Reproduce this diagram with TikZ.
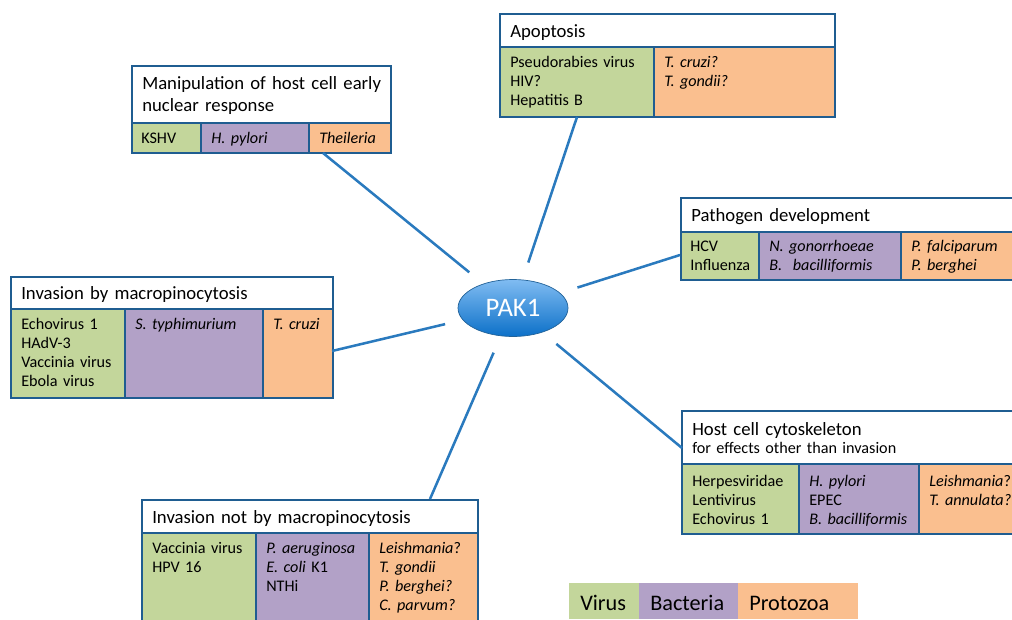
\documentclass[tikz,border=0pt]{standalone}
\usepackage{fontspec}
\setmainfont{Carlito}
\usetikzlibrary{shapes.geometric}

\definecolor{virusgreen}{RGB}{195,214,155}
\definecolor{bactpurple}{RGB}{178,161,199}
\definecolor{protoorange}{RGB}{250,191,143}
\definecolor{boxblue}{RGB}{31,93,145}
\definecolor{linkblue}{RGB}{42,122,190}

\newdimen\px \px=0.025cm

\begin{document}
\begin{tikzpicture}[
      x=0.025cm, y=-0.025cm, % one unit is one pixel of the layout
      title box/.style 2 args={draw=boxblue, line width=1.4pt, fill=white, anchor=north west,
        inner sep=0pt, minimum width=#1\px, minimum height=#2\px},
      cell/.style 2 args={draw=boxblue, line width=1.4pt, anchor=north west,
        inner sep=0pt, minimum width=#1\px, minimum height=#2\px},
      key/.style 2 args={anchor=north west, inner sep=0pt, minimum width=#1\px, minimum height=#2\px},
      title text/.style={anchor=base west, inner sep=0pt, text width=7cm, align=left,
        font=\fontsize{13.3}{16}\selectfont},
      item text/.style={anchor=base west, inner sep=0pt, text width=4cm, align=left,
        font=\fontsize{11.5}{13.6}\selectfont},
      key text/.style={anchor=base west, inner sep=0pt, font=\fontsize{15.8}{18}\selectfont},
      link/.style={draw=linkblue, line width=1.8pt, shorten <=0.45cm}
    ]

    \clip (0,0) rectangle (1012,619);

    % Central node
    \node[ellipse, draw=linkblue!80!black, line width=0.5pt,
          top color={rgb,255:red,128;green,188;blue,242}, bottom color={rgb,255:red,12;green,112;blue,200},
          minimum width=110\px, minimum height=57\px, text=white,
          font=\fontsize{19}{22}\selectfont] (pak) at (513,308) {PAK1};

    % Manipulation of host cell early nuclear response
    \node[title box={259}{57}] (mani) at (131,65) {};
    \node[cell={69}{30}, fill=virusgreen] (mani-v) at (131,122) {};
    \node[cell={108}{30}, fill=bactpurple] (mani-b) at (200,122) {};
    \node[cell={82}{30}, fill=protoorange] (mani-p) at (308,122) {};
    \node[title text] at ([shift={(11,24)}]mani.north west) {Manipulation of host cell early\\nuclear response};
    \node[item text] at ([shift={(10,21)}]mani-v.north west) {KSHV};
    \node[item text] at ([shift={(11,21)}]mani-b.north west) {\itshape H. pylori};
    \node[item text] at ([shift={(11,21)}]mani-p.north west) {\itshape Theileria};

    % Apoptosis
    \node[title box={335}{33}] (apo) at (499,13) {};
    \node[cell={154}{70}, fill=virusgreen] (apo-v) at (499,46) {};
    \node[cell={181}{70}, fill=protoorange] (apo-p) at (653,46) {};
    \node[title text] at ([shift={(11,24)}]apo.north west) {Apoptosis};
    \node[item text] at ([shift={(11,21)}]apo-v.north west) {Pseudorabies virus\\HIV?\\Hepatitis B};
    \node[item text] at ([shift={(11,21)}]apo-p.north west) {\itshape T. cruzi?\\T. gondii?};

    % Invasion by macropinocytosis
    \node[title box={322}{32}] (macro) at (10,276) {};
    \node[cell={114}{89}, fill=virusgreen] (macro-v) at (10,308) {};
    \node[cell={138}{89}, fill=bactpurple] (macro-b) at (124,308) {};
    \node[cell={70}{89}, fill=protoorange] (macro-p) at (262,308) {};
    \node[title text] at ([shift={(11,23)}]macro.north west) {Invasion by macropinocytosis};
    \node[item text] at ([shift={(11,21)}]macro-v.north west) {Echovirus 1\\HAdV-3\\Vaccinia virus\\Ebola virus};
    \node[item text] at ([shift={(11,21)}]macro-b.north west) {\itshape S. typhimurium};
    \node[item text] at ([shift={(11,21)}]macro-p.north west) {\itshape T. cruzi};

    % Pathogen development
    \node[title box={345}{34}] (patho) at (680,197) {};
    \node[cell={78}{48}, fill=virusgreen] (patho-v) at (680,231) {};
    \node[cell={142}{48}, fill=bactpurple] (patho-b) at (758,231) {};
    \node[cell={125}{48}, fill=protoorange] (patho-p) at (900,231) {};
    \node[title text] at ([shift={(11,24)}]patho.north west) {Pathogen development};
    \node[item text] at ([shift={(10,20)}]patho-v.north west) {HCV\\Influenza};
    \node[item text] at ([shift={(11,20)}]patho-b.north west) {\itshape N. gonorrhoeae\\B.\ \ bacilliformis};
    \node[item text] at ([shift={(11,20)}]patho-p.north west) {\itshape P. falciparum\\P. berghei};

    % Host cell cytoskeleton
    \node[title box={345}{53}] (host) at (681,410) {};
    \node[cell={117}{70}, fill=virusgreen] (host-v) at (681,463) {};
    \node[cell={120}{70}, fill=bactpurple] (host-b) at (798,463) {};
    \node[cell={107}{70}, fill=protoorange] (host-p) at (918,463) {};
    \node[title text] at ([shift={(11,25)}]host.north west) {Host cell cytoskeleton};
    \node[item text, text width=7cm] at ([shift={(11,43)}]host.north west) {for effects other than invasion};
    \node[item text] at ([shift={(11,23)}]host-v.north west) {Herpesviridae\\Lentivirus\\Echovirus 1};
    \node[item text] at ([shift={(11,23)}]host-b.north west) {\itshape H. pylori\\\upshape EPEC\\\itshape B. bacilliformis};
    \node[item text] at ([shift={(11,23)}]host-p.north west) {\itshape Leishmania\upshape ?\\\itshape T. annulata?};

    % Invasion not by macropinocytosis
    \node[title box={336}{33}] (notmacro) at (141,499) {};
    \node[cell={114}{95}, fill=virusgreen] (notmacro-v) at (141,532) {};
    \node[cell={113}{95}, fill=bactpurple] (notmacro-b) at (255,532) {};
    \node[cell={109}{95}, fill=protoorange] (notmacro-p) at (368,532) {};
    \node[title text] at ([shift={(11,24)}]notmacro.north west) {Invasion not by macropinocytosis};
    \node[item text] at ([shift={(11,21)}]notmacro-v.north west) {Vaccinia virus\\HPV 16};
    \node[item text] at ([shift={(11,21)}]notmacro-b.north west) {\itshape P. aeruginosa\\E. coli \upshape K1\\NTHi};
    \node[item text] at ([shift={(11,21)}]notmacro-p.north west) {\itshape Leishmania\upshape ?\\\itshape T. gondii\\P. berghei?\\C. parvum?};

    % Key
    \node[key={70}{36}, fill=virusgreen] (key-v) at (569,583) {};
    \node[key={99}{36}, fill=bactpurple] (key-b) at (639,583) {};
    \node[key={120}{36}, fill=protoorange] (key-p) at (738,583) {};
    \node[key text] at ([shift={(11,27)}]key-v.north west) {Virus};
    \node[key text] at ([shift={(11,27)}]key-b.north west) {Bacteria};
    \node[key text] at ([shift={(11,27)}]key-p.north west) {Protozoa};

    % Connectors from PAK1 to each box
    \coordinate (mani-in) at (323,153);
    \coordinate (apo-in) at (577,117);
    \coordinate (patho-in) at (680,255);
    \coordinate (macro-in) at (332,351);
    \coordinate (host-in) at (682,448);
    \coordinate (notmacro-in) at (430,499);
    \foreach \target in {mani, apo, patho, macro, host, notmacro}
      \draw[link] (pak) -- (\target-in);

  \end{tikzpicture}
\end{document}
